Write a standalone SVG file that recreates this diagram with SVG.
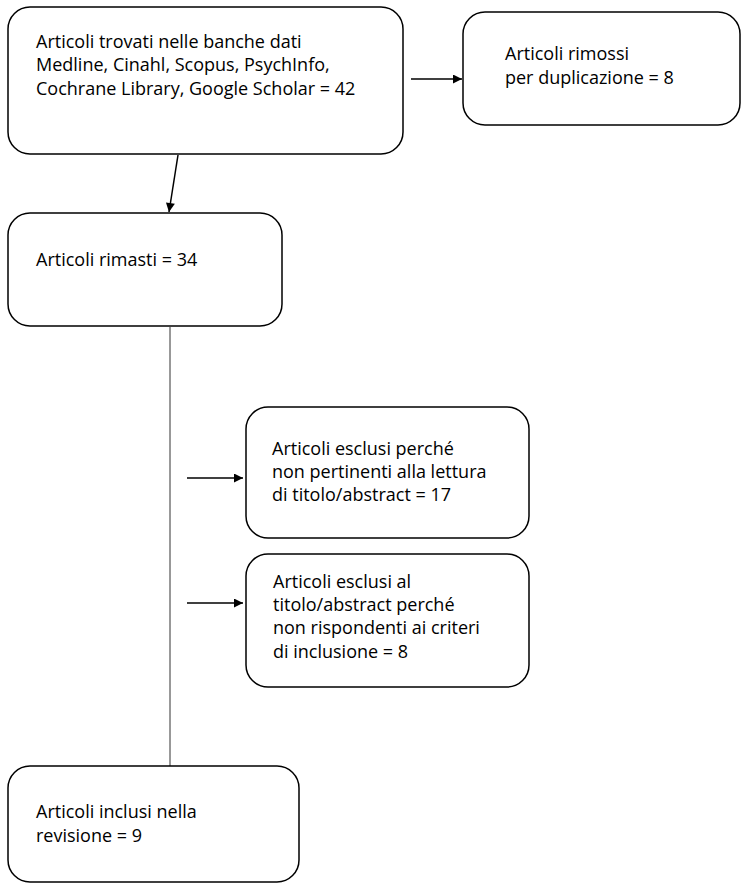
<svg xmlns="http://www.w3.org/2000/svg" width="742" height="883" viewBox="0 0 742 883">
<style>
.box{fill:#fff;stroke:#000;stroke-width:1.5}
.t{font-family:"Open Sans","Liberation Sans",Arial,sans-serif;font-size:18px;fill:#000}
.c{stroke:#000;stroke-width:1.5;fill:none}
.l{stroke:#333;stroke-width:1;fill:none}
</style>
<defs>
<marker id="ah" viewBox="0 0 10 10" refX="10" refY="5" markerWidth="10" markerHeight="9" markerUnits="userSpaceOnUse" orient="auto"><path d="M0,0 L10,5 L0,10 z" fill="#000"/></marker>
</defs>
<rect width="742" height="883" fill="#fff"/>
<g id="connectors">
<line class="c" x1="411" y1="79" x2="462" y2="79" marker-end="url(#ah)"/>
<line class="c" x1="178" y1="155" x2="169" y2="212" marker-end="url(#ah)"/>
<line class="l" x1="170" y1="327" x2="170" y2="766"/>
<line class="c" x1="187" y1="478" x2="243" y2="478" marker-end="url(#ah)"/>
<line class="c" x1="187" y1="603" x2="243" y2="603" marker-end="url(#ah)"/>
</g>
<g id="n1">
<rect class="box" x="8" y="7" width="395" height="147" rx="22"/>
<text class="t" x="36" y="48">Articoli trovati nelle banche dati</text>
<text class="t" x="36" y="71">Medline, Cinahl, Scopus, PsychInfo,</text>
<text class="t" x="36" y="95">Cochrane Library, Google Scholar = 42</text>
</g>
<g id="n2">
<rect class="box" x="463" y="12" width="277" height="113" rx="22"/>
<text class="t" x="505" y="60">Articoli rimossi</text>
<text class="t" x="505" y="84">per duplicazione = 8</text>
</g>
<g id="n3">
<rect class="box" x="8" y="213" width="274" height="113" rx="22"/>
<text class="t" x="36" y="266">Articoli rimasti = 34</text>
</g>
<g id="n4">
<rect class="box" x="246" y="407" width="283" height="131" rx="22"/>
<text class="t" x="272" y="455">Articoli esclusi perché</text>
<text class="t" x="272" y="478">non pertinenti alla lettura</text>
<text class="t" x="272" y="501">di titolo/abstract = 17</text>
</g>
<g id="n5">
<rect class="box" x="246" y="554" width="283" height="133" rx="22"/>
<text class="t" x="273" y="588">Articoli esclusi al</text>
<text class="t" x="273" y="611">titolo/abstract perché</text>
<text class="t" x="273" y="634">non rispondenti ai criteri</text>
<text class="t" x="273" y="658">di inclusione = 8</text>
</g>
<g id="n6">
<rect class="box" x="8" y="766" width="291" height="116" rx="22"/>
<text class="t" x="36" y="818">Articoli inclusi nella</text>
<text class="t" x="36" y="842">revisione = 9</text>
</g>
</svg>
